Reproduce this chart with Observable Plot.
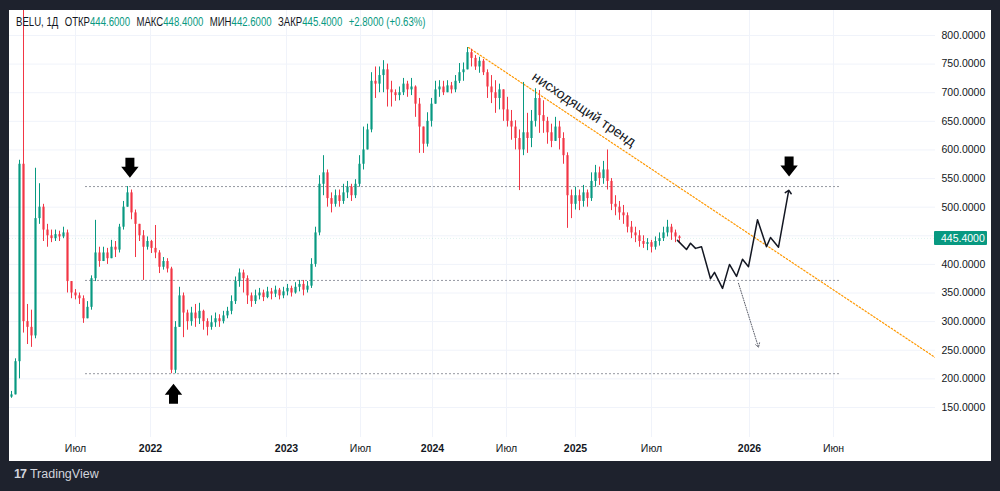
<!DOCTYPE html>
<html>
<head>
<meta charset="utf-8">
<script src="https://cdn.jsdelivr.net/npm/d3@7"></script>
<script src="https://cdn.jsdelivr.net/npm/@observablehq/plot@0.6"></script>
<style>
  html, body { margin: 0; padding: 0; background: #1e222d; width: 1000px; height: 491px; overflow: hidden; }
  #panel { position: absolute; left: 9px; top: 10px; width: 982px; height: 451px; background: #fff; }
  #header { position: absolute; left: 7px; top: 5px; font: 12px "Liberation Sans", Arial, sans-serif; color: #131722; white-space: nowrap; z-index: 2; transform: scaleX(0.8); transform-origin: 0 0; }
  #header .v { color: #089981; }
  #header .g { margin-left: 8px; }
  #logo { position: absolute; left: 14px; top: 467px; font: 12.5px "Liberation Sans", Arial, sans-serif; color: #d1d4dc; white-space: nowrap; }
  #logo b { font-weight: 900; letter-spacing: -1px; margin-right: 4px; color: #d1d4dc; }
</style>
</head>
<body>
<div id="panel">
  <div id="header">BELU, 1Д<span class="g">ОТКР</span><span class="v">444.6000</span><span class="g">МАКС</span><span class="v">448.4000</span><span class="g">МИН</span><span class="v">442.6000</span><span class="g">ЗАКР</span><span class="v">445.4000</span><span class="g v">+2.8000 (+0.63%)</span></div>
</div>
<div id="logo"><b>17</b>TradingView</div>
<script>
// ---- data ----
const firstOpen = 168;
const closes = [172,230,575,300,290,275,480,500,460,450,
445,452,448,455,370,350,345,340,305,325,
375,420,405,420,410,430,425,465,500,525,
490,470,450,430,440,428,420,395,405,392,
215,290,345,315,300,315,305,318,300,290,
298,305,300,310,318,335,370,385,375,345,
335,345,350,342,352,348,355,345,352,358,
350,360,365,355,362,400,455,540,560,515,
505,520,510,525,535,520,540,575,600,635,
720,715,730,740,705,700,695,700,715,705,
710,680,640,610,650,680,705,710,700,712,
705,720,735,740,770,760,745,755,735,710,
700,690,705,670,650,640,620,600,630,620,
650,690,660,650,630,615,640,620,590,520,
505,520,510,525,515,545,560,550,565,545,
505,500,490,485,465,455,450,440,435,438,
430,440,445,455,465,455,448,445.4];
const highs = [178,235,582,870,330,320,568,541,505,470,
460,460,458,465,460,365,356,350,345,335,
380,477,430,430,428,442,440,470,510,536,
530,495,470,459,448,442,468,424,412,410,
395,300,360,350,320,325,330,332,320,305,
310,315,312,318,325,345,378,392,390,380,
350,355,358,355,360,358,362,358,360,365,
362,368,372,372,370,410,465,555,590,565,
525,530,530,540,545,540,548,590,640,645,
735,745,745,756,750,720,705,710,725,720,
725,712,690,640,665,690,720,721,720,721,
718,730,751,752,779,776,765,762,758,740,
730,721,715,700,692,669,651,635,718,664,
669,707,704,686,657,645,657,650,630,595,
530,535,530,538,530,560,573,570,580,600,
550,520,510,503,490,475,465,459,450,445,
442,448,455,465,477,470,460,450];
const lows = [166,172,200,280,260,255,270,470,440,430,
438,440,440,445,350,340,338,330,297,305,
320,370,395,405,400,410,412,420,460,500,
478,412,440,372,425,419,410,384,390,385,
209,209,290,272,285,292,290,295,285,275,
285,290,290,296,305,312,330,360,350,330,
325,330,338,335,340,338,342,338,340,345,
343,348,352,345,350,358,395,450,520,500,
490,500,500,505,515,510,515,535,565,600,
630,690,700,700,675,675,685,686,695,692,
695,657,594,594,605,640,680,692,695,700,
698,700,716,720,740,745,739,734,730,690,
681,664,670,650,640,617,600,529,590,594,
604,640,629,629,610,604,615,600,575,463,
480,495,494,500,500,510,535,538,540,530,
494,485,477,470,455,445,438,430,428,424,
420,425,432,440,448,442,438,438];

const lastPrice = 445.4;
const yTicks = [150,200,250,300,350,400,450,500,550,600,650,700,750,800];
const yAxisTicks = [150,200,250,300,350,400,500,550,600,650,700,750,800];
const monthTicks = [16, 87.25, 123.75, 160, 205.5];
const monthLabels = ["Июл","Июл","Июл","Июл","Июн"];
const yearTicks = [34.75, 68.75, 105.25, 141, 184.5];
const yearLabels = ["2022","2023","2024","2025","2026"];

const levels = [536, 372, 209];
const levelFrom = 18.5, levelTo = 207.25;

const trendX = [114.25, 231];
const trendY = [779, 237];

const projX = [166.5,168.75,169.75,171,172.5,174.75,175.75,177.75,179.5,181.25,182.75,184.25,186.5,188.75,189.75,191.75,194.25];
const projY = [442,426,437,428,431,375,386,358,400,379,409,396,478,431,447,430,527];
const altX = [181.75, 186.75];
const altY = [367, 255];

const downArrows = [{x: 29.6, y: 569}, {x: 194.4, y: 571}];
const upArrows = [{x: 40.5, y: 174}];

const trendLabel = {x: 143.1, y: 671, text: "нисходящий тренд"};

// ---- build ----
const UP = "#089981", DOWN = "#f23645";
const candles = closes.map((c, i) => {
  const open = i === 0 ? firstOpen : closes[i - 1];
  return {i, open, close: c, high: Math.max(highs[i], open, c), low: Math.min(lows[i], open, c),
          color: c >= open ? UP : DOWN};
});
const proj = projX.map((x, k) => ({x, y: projY[k]}));
const trend = trendX.map((x, k) => ({x, y: trendY[k]}));
const monthMap = new Map(monthTicks.map((t, k) => [t, monthLabels[k]]));
const yearMap = new Map(yearTicks.map((t, k) => [t, yearLabels[k]]));

const arrowDownSym = {draw(ctx, size) {
  const k = Math.sqrt(size / Math.PI) / 10;
  ctx.moveTo(-4.5*k, -10*k); ctx.lineTo(4.5*k, -10*k); ctx.lineTo(4.5*k, -1*k);
  ctx.lineTo(8.7*k, -1*k); ctx.lineTo(0, 10*k); ctx.lineTo(-8.7*k, -1*k);
  ctx.lineTo(-4.5*k, -1*k); ctx.closePath();
}};
const arrowUpSym = {draw(ctx, size) {
  const k = Math.sqrt(size / Math.PI) / 10;
  ctx.moveTo(-4.5*k, 10*k); ctx.lineTo(4.5*k, 10*k); ctx.lineTo(4.5*k, 1*k);
  ctx.lineTo(8.7*k, 1*k); ctx.lineTo(0, -10*k); ctx.lineTo(-8.7*k, 1*k);
  ctx.lineTo(-4.5*k, 1*k); ctx.closePath();
}};

const chart = Plot.plot({
  width: 982,
  height: 451,
  marginTop: 0,
  marginBottom: 24,
  marginLeft: 0,
  marginRight: 56,
  style: {fontFamily: "'Liberation Sans', Arial, sans-serif", fontSize: "10.5px", color: "#131722", background: "transparent", overflow: "visible"},
  x: {domain: [-0.5, 231], axis: null},
  y: {domain: [97.5, 843.7], axis: null},
  color: {type: "identity"},
  marks: [
    Plot.gridY(yTicks, {stroke: "#f0f3fa", strokeOpacity: 1}),
    Plot.gridX([...monthTicks, ...yearTicks], {stroke: "#f0f3fa", strokeOpacity: 1}),
    Plot.ruleY([lastPrice], {stroke: "#089981", strokeOpacity: 0.12, strokeDasharray: "1,2"}),
    Plot.ruleY(levels, {x1: levelFrom, x2: levelTo, stroke: "#9598a1", strokeDasharray: "2,2", strokeWidth: 1}),
    Plot.line(trend, {x: "x", y: "y", stroke: "#ff9800", strokeWidth: 1.2, strokeDasharray: "1.5,2", clip: true}),
    Plot.ruleX(candles, {x: "i", y1: "low", y2: "high", stroke: "color", strokeWidth: 1, clip: true}),
    Plot.ruleX(candles, {x: "i", y1: "open", y2: "close", stroke: "color", strokeWidth: 2.2, clip: true}),
    Plot.line(proj, {x: "x", y: "y", stroke: "#131722", strokeWidth: 1.5, markerEnd: "arrow"}),
    Plot.arrow([{x1: altX[0], y1: altY[0], x2: altX[1], y2: altY[1]}], {x1: "x1", y1: "y1", x2: "x2", y2: "y2", stroke: "#5d606b", strokeWidth: 1, strokeDasharray: "1,1.5", headLength: 7}),
    Plot.dot(downArrows, {x: "x", y: "y", r: 10, symbol: arrowDownSym, fill: "#000", stroke: null}),
    Plot.dot(upArrows, {x: "x", y: "y", r: 10, symbol: arrowUpSym, fill: "#000", stroke: null}),
    Plot.text([trendLabel], {x: "x", y: "y", text: "text", rotate: 34, fontSize: 14, fill: "#131722", textAnchor: "middle", lineAnchor: "middle"}),
    Plot.axisY(yAxisTicks, {anchor: "right", tickSize: 0, tickPadding: 6, tickFormat: d => d.toFixed(4), fontSize: 10.5, fill: "#131722"}),
    Plot.axisX(monthTicks, {anchor: "bottom", tickSize: 0, tickPadding: 7, tickFormat: d => monthMap.get(d), fontSize: 10.5, fill: "#131722"}),
    Plot.axisX(yearTicks, {anchor: "bottom", tickSize: 0, tickPadding: 7, tickFormat: d => yearMap.get(d), fontSize: 10.5, fontWeight: "bold", fill: "#131722"})
  ]
});
chart.style.position = "absolute";
chart.style.left = "0px";
chart.style.top = "0px";
document.getElementById("panel").appendChild(chart);

// last price label on the price scale
const ys = chart.scale("y");
const yy = ys.apply(lastPrice);
const g = d3.select(chart).append("g");
g.append("rect").attr("x", 925).attr("y", yy - 7).attr("width", 53).attr("height", 14).attr("rx", 1).attr("fill", "#089981");
g.append("text").attr("x", 932).attr("y", yy).attr("dy", "0.35em").attr("fill", "#fff")
  .attr("text-anchor", "start")
  .attr("font-size", 10.5).attr("font-family", "'Liberation Sans', Arial, sans-serif").text(lastPrice.toFixed(4));
</script>
</body>
</html>
